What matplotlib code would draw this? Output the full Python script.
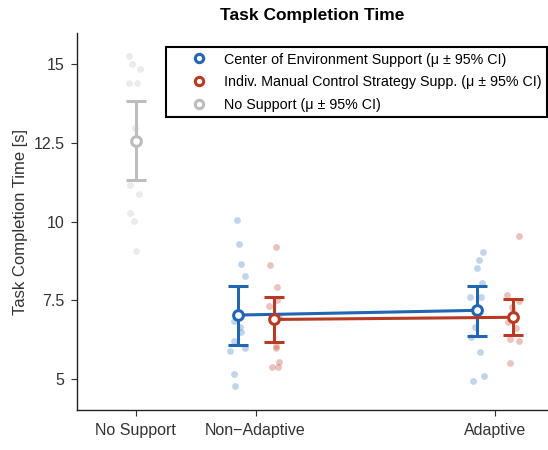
import numpy as np
import matplotlib.pyplot as plt

plt.rcParams['font.family'] = ['Liberation Sans', 'DejaVu Sans']

conditions = ['No Support', 'Non\u2212Adaptive', 'Adaptive']
cond_pos = [0, 1, 3]

# raw task completion times (s)
no_support = [15.26, 15.01, 14.84, 14.42, 14.42, 12.98, 12.57, 11.16, 10.87, 10.27, 10.02, 9.07]
center_nonadapt = [10.05, 9.30, 8.64, 8.27, 6.84, 6.64, 6.50, 6.22, 5.90, 5.99, 5.16, 4.79]
center_adapt = [9.02, 8.77, 8.52, 8.04, 7.59, 7.59, 6.64, 6.34, 5.85, 5.10, 4.95]
indiv_nonadapt = [9.18, 8.62, 7.91, 7.52, 7.33, 6.96, 6.06, 5.97, 5.55, 5.38, 5.37]
indiv_adapt = [9.53, 7.67, 7.49, 7.28, 7.12, 6.80, 6.61, 6.27, 6.22, 5.50]

# means with 95% CI bounds
no_mean, no_lo, no_hi = 12.57, 11.32, 13.83
center_mean = [7.03, 7.18]
center_lo = [6.09, 6.37]
center_hi = [7.96, 7.94]
indiv_mean = [6.89, 6.96]
indiv_lo = [6.16, 6.40]
indiv_hi = [7.61, 7.53]

blue = '#2265b0'
red = '#b83a22'
grey = '#bdbdbd'

fig = plt.figure(figsize=(5.48, 4.5), dpi=100)
ax = fig.add_axes([0.1405, 0.088, 0.8595, 0.839])
rng = np.random.default_rng(3)
off = 0.15


def jitter(n):
    return rng.uniform(-0.065, 0.065, n)


ax.scatter(cond_pos[0] + jitter(len(no_support)), no_support, s=24, color=grey, alpha=0.3, lw=0, zorder=1)
for x, vals in zip([cond_pos[1] - off, cond_pos[2] - off], [center_nonadapt, center_adapt]):
    ax.scatter(x + jitter(len(vals)), vals, s=24, color=blue, alpha=0.28, lw=0, zorder=1)
for x, vals in zip([cond_pos[1] + off, cond_pos[2] + off], [indiv_nonadapt, indiv_adapt]):
    ax.scatter(x + jitter(len(vals)), vals, s=24, color=red, alpha=0.3, lw=0, zorder=1)


def ci_plot(xs, m, lo, hi, c, label):
    m = np.asarray(m)
    err = [m - np.asarray(lo), np.asarray(hi) - m]
    ax.errorbar(xs, m, yerr=err, color=c, lw=2.2, elinewidth=2.2, capsize=7,
                capthick=2.2, marker='o', ms=7, mfc='white', mec=c, mew=2.2,
                zorder=3, label=label)


ci_plot([cond_pos[1] - off, cond_pos[2] - off], center_mean, center_lo, center_hi, blue,
        'Center of Environment Support (\u03bc \u00b1 95% CI)')
ci_plot([cond_pos[1] + off, cond_pos[2] + off], indiv_mean, indiv_lo, indiv_hi, red,
        'Indiv. Manual Control Strategy Supp. (\u03bc \u00b1 95% CI)')
ax.errorbar([cond_pos[0]], [no_mean], yerr=[[no_mean - no_lo], [no_hi - no_mean]], color=grey,
            lw=2.2, elinewidth=2.2, capsize=7, capthick=2.2, marker='o', ms=7,
            mfc='white', mec=grey, mew=2.2, zorder=3, label='No Support (\u03bc \u00b1 95% CI)')

ax.set_xlim(-0.49, 3.44)
ax.set_ylim(4, 16)
ax.set_yticks([5, 7.5, 10, 12.5, 15])
ax.set_yticklabels(['5', '7.5', '10', '12.5', '15'])
ax.set_xticks(cond_pos)
ax.set_xticklabels(conditions)
for s in ['top', 'right']:
    ax.spines[s].set_visible(False)
for s in ['left', 'bottom']:
    ax.spines[s].set_color('#222222')
    ax.spines[s].set_linewidth(1.0)
ax.tick_params(direction='out', length=4, width=0.8, color='#333333', labelcolor='#333333',
               labelsize=11.5, pad=5)
ax.set_ylabel('Task Completion Time [s]', fontsize=12, color='#333333', labelpad=4)
ax.set_title('Task Completion Time', fontsize=12.5, fontweight='bold', pad=9)

handles, labels = ax.get_legend_handles_labels()
handles = [plt.Line2D([], [], ls='', marker='o', ms=6, mfc='white', mec=h[0].get_color(), mew=2.2)
           for h in handles]
leg = ax.legend(handles, labels, loc='upper right', bbox_to_anchor=(1.0, 0.965), fontsize=10.3,
                frameon=True, fancybox=False, edgecolor='black', framealpha=1,
                handlelength=3.9, handletextpad=-0.2, labelspacing=0.6, borderpad=0.35,
                borderaxespad=0.1)
leg.get_frame().set_linewidth(1.5)

fig.savefig('out.png', dpi=100)
